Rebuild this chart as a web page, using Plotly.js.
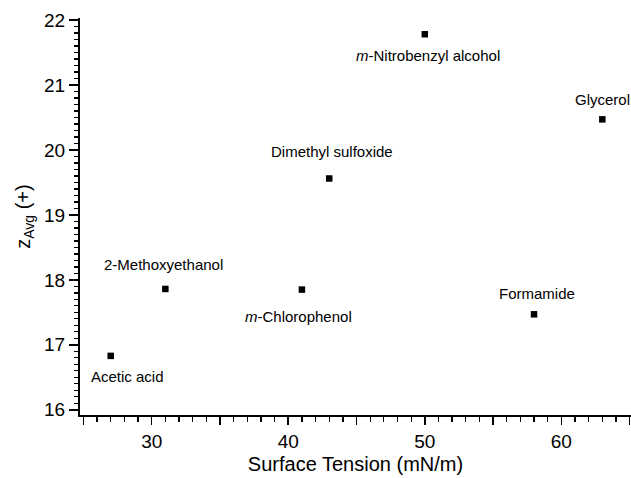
<!DOCTYPE html>
<html>
<head>
<meta charset="utf-8">
<script src="https://cdn.plot.ly/plotly-3.0.1.min.js"></script>
<style>html,body{margin:0;padding:0;background:#fff;}#chart{width:631px;height:478px;}</style>
</head>
<body>
<div id="chart"></div>
<script>
// Data
const solvents = ["Acetic acid", "2-Methoxyethanol", "<i>m</i>-Chlorophenol", "Dimethyl sulfoxide", "<i>m</i>-Nitrobenzyl alcohol", "Formamide", "Glycerol"];
const surfaceTension = [27, 31, 41, 43, 50, 58, 63];
const zAvg = [16.83, 17.86, 17.85, 19.56, 21.78, 17.47, 20.47];

// Label placement (style, pixels relative to each point)
const labelDx = [17, -2, -3, 3, 3, 3, 0];
const labelDy = [-21, 24, -27, 27, -21, 21, 20];

const font = "Liberation Sans, Arial, Helvetica, sans-serif";

const trace = {
  x: surfaceTension,
  y: zAvg,
  mode: "markers",
  type: "scatter",
  marker: {symbol: "square", size: 6.5, color: "#000"},
  hoverinfo: "skip",
  cliponaxis: false
};

const annotations = solvents.map((s, i) => ({
  x: surfaceTension[i], y: zAvg[i], xref: "x", yref: "y",
  text: s, showarrow: false,
  xshift: labelDx[i], yshift: labelDy[i],
  font: {family: font, size: 15, color: "#000"}
}));

const layout = {
  width: 631, height: 478,
  margin: {l: 80, r: 0, t: 18, b: 63},
  paper_bgcolor: "#fff", plot_bgcolor: "#fff",
  showlegend: false,
  font: {family: font, color: "#000"},
  xaxis: {
    range: [24.75, 65.1],
    tickmode: "linear", tick0: 0, dtick: 5, ticklabelstep: 2,
    ticks: "outside", ticklen: 8, tickwidth: 1.6, tickcolor: "#000",
    minor: {dtick: 1, tick0: 0, ticks: "outside", ticklen: 5, tickwidth: 1.3, tickcolor: "#000", showgrid: false},
    showline: true, linecolor: "#000", linewidth: 2,
    showgrid: false, zeroline: false,
    tickfont: {family: font, size: 19, color: "#000"},
    title: {text: "Surface Tension (mN/m)", font: {family: font, size: 20, color: "#000"}, standoff: 6}
  },
  yaxis: {
    range: [15.92, 22.03],
    dtick: 1, tick0: 16,
    ticks: "outside", ticklen: 9, tickwidth: 1.6, tickcolor: "#000",
    minor: {dtick: 0.1, ticks: "outside", ticklen: 4, tickwidth: 1.3, tickcolor: "#000", showgrid: false},
    showline: true, linecolor: "#000", linewidth: 2,
    showgrid: false, zeroline: false,
    tickfont: {family: font, size: 19, color: "#000"},
    title: {text: "z<sub>Avg</sub> (+)", font: {family: font, size: 20, color: "#000"}, standoff: 8}
  },
  annotations: annotations
};

Plotly.newPlot("chart", [trace], layout, {staticPlot: true, displayModeBar: false});
</script>
</body>
</html>
